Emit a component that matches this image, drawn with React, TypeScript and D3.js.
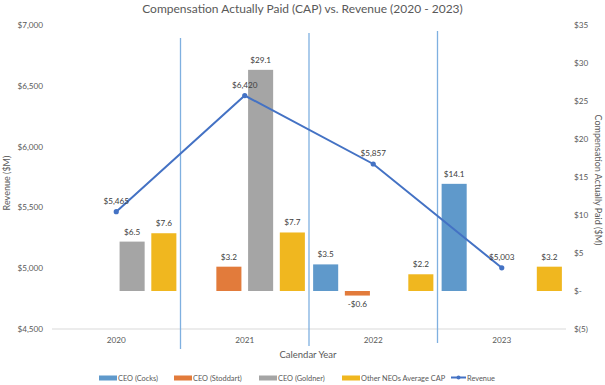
import React from 'react';
import * as d3 from 'd3';

const years = ['2020', '2021', '2022', '2023'];
const seriesNames = ['CEO (Cocks)', 'CEO (Stoddart)', 'CEO (Goldner)', 'Other NEOs Average CAP'];
const cocks = [null, null, 3.5, 14.1];
const stoddart = [null, 3.2, -0.6, null];
const goldner = [6.5, 29.1, null, null];
const otherNeos = [7.6, 7.7, 2.2, 3.2];
const revenue = [5465, 6420, 5857, 5003];
const revenueTicks = [4500, 5000, 5500, 6000, 6500, 7000];
const capTicks = [-5, 0, 5, 10, 15, 20, 25, 30, 35];

const colors = ['#5f99cb', '#e27b3b', '#a5a5a5', '#f0b71f'];
const lineColor = '#4472c4';
const textColor = '#595959';
const font = 'Lato, "Noto Sans", sans-serif';

// hand-drawn separators between years (tops/bottoms as drawn in the original)
const sepTops = [38, 33, 31];
const sepBottoms = [349, 346, 343];

const W = 605;
const H = 385;
const plot = { left: 52, right: 566, top: 25, bottom: 329 };

const fmtRev = (v: number) => '$' + d3.format(',')(v);
const fmtCap = (v: number) => (v === 0 ? '$-' : v < 0 ? `$(${-v})` : `$${v}`);
const fmtBar = (v: number) => (v < 0 ? `-$${(-v).toFixed(1)}` : `$${v.toFixed(1)}`);

export default function App() {
  const allSeries = [cocks, stoddart, goldner, otherNeos];

  const x0 = d3.scaleBand().domain(years).range([plot.left, plot.right]).padding(0);
  const x1 = d3.scaleBand().domain(seriesNames).range([0, x0.bandwidth()])
    .paddingInner(0.21).paddingOuter(0.13);
  const yRev = d3.scaleLinear().domain([4500, 7000]).range([plot.bottom, plot.top]);
  const yCap = d3.scaleLinear().domain([-5, 35]).range([plot.bottom, plot.top]);

  const line = d3.line<number>()
    .x((_, i) => x0(years[i])! + x0.bandwidth() / 2)
    .y(d => yRev(d));

  const legendItems = [
    { name: seriesNames[0], x: 99 },
    { name: seriesNames[1], x: 174 },
    { name: seriesNames[2], x: 259 },
    { name: seriesNames[3], x: 342 },
  ];

  return (
    <div style={{ position: 'absolute', left: 0, top: 0, background: '#fff' }}>
      <svg width={W} height={H} style={{ display: 'block', fontFamily: font }}>
        <rect width={W} height={H} fill="#fff" />
        <text x={W / 2} y={12.5} textAnchor="middle" fontSize={12} fill={textColor}>
          Compensation Actually Paid (CAP) vs. Revenue (2020 - 2023)
        </text>

        {/* bottom gridline */}
        <line x1={plot.left} x2={plot.right} y1={plot.bottom} y2={plot.bottom} stroke="#d9d9d9" strokeWidth={1} />

        {/* left axis */}
        {revenueTicks.map(t => (
          <text key={t} x={43} y={yRev(t) + 3} textAnchor="end" fontSize={8.2} fill={textColor}>
            {fmtRev(t)}
          </text>
        ))}
        <text transform={`translate(10,${(plot.top + plot.bottom) / 2 + 6}) rotate(-90)`} textAnchor="middle"
          fontSize={9} fill={textColor}>Revenue ($M)</text>

        {/* right axis */}
        {capTicks.map(t => (
          <text key={t} x={574} y={yCap(t) + 3} textAnchor="start" fontSize={8.2} fill={textColor}>
            {fmtCap(t)}
          </text>
        ))}
        <text transform={`translate(595,${(plot.top + plot.bottom) / 2 + 3}) rotate(90)`} textAnchor="middle"
          fontSize={9} fill={textColor}>Compensation Actually Paid ($M)</text>

        {/* bars */}
        {years.map((yr, i) => (
          <g key={yr} transform={`translate(${x0(yr)},0)`}>
            {allSeries.map((s, j) => {
              const v = s[i];
              if (v === null || v === undefined) return null;
              const bx = x1(seriesNames[j])!;
              const top = Math.min(yCap(v), yCap(0));
              const h = Math.abs(yCap(v) - yCap(0));
              const ly = v >= 0 ? top - 7 : top + h + 11.5;
              return (
                <g key={j}>
                  <rect x={bx} y={top} width={x1.bandwidth()} height={h} fill={colors[j]} />
                  <text x={bx + x1.bandwidth() / 2} y={ly} textAnchor="middle" fontSize={8.2} fill="#404040">
                    {fmtBar(v)}
                  </text>
                </g>
              );
            })}
          </g>
        ))}

        {/* category labels */}
        {years.map(yr => (
          <text key={yr} x={x0(yr)! + x0.bandwidth() / 2} y={343} textAnchor="middle" fontSize={8.2} fill={textColor}>
            {yr}
          </text>
        ))}
        <text x={308} y={357.5} textAnchor="middle" fontSize={9.5} fill={textColor}>Calendar Year</text>

        {/* separators */}
        {years.slice(1).map((yr, i) => (
          <line key={yr} x1={x0(yr)!} x2={x0(yr)!} y1={sepTops[i]} y2={sepBottoms[i]} stroke="#7fb0e0" strokeWidth={1.3} />
        ))}

        {/* revenue line */}
        <path d={line(revenue) || ''} fill="none" stroke={lineColor} strokeWidth={2} />
        {revenue.map((v, i) => {
          const cx = x0(years[i])! + x0.bandwidth() / 2;
          return (
            <g key={i}>
              <circle cx={cx} cy={yRev(v)} r={2.6} fill={lineColor} />
              <text x={cx} y={yRev(v) - 8} textAnchor="middle" fontSize={8.2} fill="#404040">{fmtRev(v)}</text>
            </g>
          );
        })}

        {/* legend */}
        {legendItems.map((it, j) => (
          <g key={it.name}>
            <rect x={it.x} y={375.5} width={18} height={5} fill={colors[j]} />
            <text x={it.x + 19} y={380.5} fontSize={7.4} fill={textColor}>{it.name}</text>
          </g>
        ))}
        <line x1={451} x2={466} y1={377.5} y2={377.5} stroke={lineColor} strokeWidth={2} />
        <circle cx={458.5} cy={377.5} r={2} fill={lineColor} />
        <text x={467} y={380.5} fontSize={7.4} fill={textColor}>Revenue</text>
      </svg>
    </div>
  );
}
